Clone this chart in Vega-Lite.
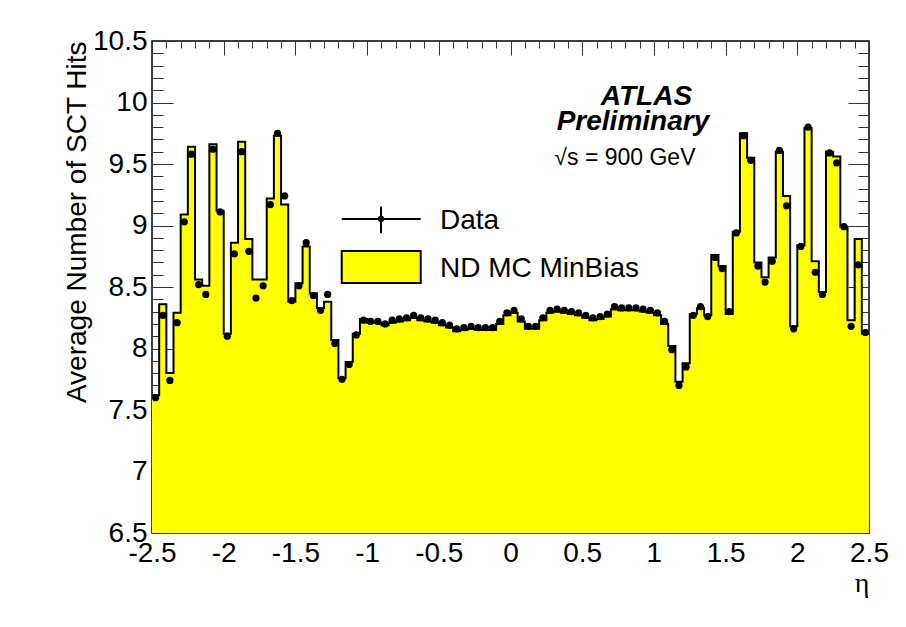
{
  "$schema": "https://vega.github.io/schema/vega-lite/v6.json",
  "width": 717,
  "height": 492,
  "autosize": {"type": "none"},
  "padding": {"left": 152, "top": 41, "right": 37, "bottom": 94},
  "background": "white",
  "config": {
    "view": {"stroke": "#000", "strokeWidth": 1.5},
    "axis": {
      "grid": false, "domain": false,
      "labelFont": "Liberation Sans", "titleFont": "Liberation Sans",
      "labelColor": "#000", "titleColor": "#000", "tickColor": "#333", "tickWidth": 1,
      "labelFontSize": 28, "titleFontSize": 28, "titleFontWeight": "normal",
      "labelFlush": false, "labelOverlap": false, "labelBound": false
    }
  },
  "datasets": {
    "bins": [
      {"lo": -2.5, "hi": -2.45, "eta": -2.475, "mc": 7.62, "data": 7.60},
      {"lo": -2.45, "hi": -2.4, "eta": -2.425, "mc": 8.36, "data": 8.27},
      {"lo": -2.4, "hi": -2.35, "eta": -2.375, "mc": 7.80, "data": 7.74},
      {"lo": -2.35, "hi": -2.3, "eta": -2.325, "mc": 8.29, "data": 8.21},
      {"lo": -2.3, "hi": -2.25, "eta": -2.275, "mc": 9.09, "data": 9.03},
      {"lo": -2.25, "hi": -2.2, "eta": -2.225, "mc": 9.64, "data": 9.58},
      {"lo": -2.2, "hi": -2.15, "eta": -2.175, "mc": 8.56, "data": 8.52},
      {"lo": -2.15, "hi": -2.1, "eta": -2.125, "mc": 8.51, "data": 8.44},
      {"lo": -2.1, "hi": -2.05, "eta": -2.075, "mc": 9.66, "data": 9.62},
      {"lo": -2.05, "hi": -2.0, "eta": -2.025, "mc": 9.12, "data": 9.11},
      {"lo": -2.0, "hi": -1.95, "eta": -1.975, "mc": 8.12, "data": 8.10},
      {"lo": -1.95, "hi": -1.9, "eta": -1.925, "mc": 8.86, "data": 8.77},
      {"lo": -1.9, "hi": -1.85, "eta": -1.875, "mc": 9.68, "data": 9.60},
      {"lo": -1.85, "hi": -1.8, "eta": -1.825, "mc": 8.89, "data": 8.79},
      {"lo": -1.8, "hi": -1.75, "eta": -1.775, "mc": 8.56, "data": 8.41},
      {"lo": -1.75, "hi": -1.7, "eta": -1.725, "mc": 8.56, "data": 8.51},
      {"lo": -1.7, "hi": -1.65, "eta": -1.675, "mc": 9.22, "data": 9.17},
      {"lo": -1.65, "hi": -1.6, "eta": -1.625, "mc": 9.73, "data": 9.75},
      {"lo": -1.6, "hi": -1.55, "eta": -1.575, "mc": 9.17, "data": 9.24},
      {"lo": -1.55, "hi": -1.5, "eta": -1.525, "mc": 8.38, "data": 8.39},
      {"lo": -1.5, "hi": -1.45, "eta": -1.475, "mc": 8.53, "data": 8.51},
      {"lo": -1.45, "hi": -1.4, "eta": -1.425, "mc": 8.83, "data": 8.86},
      {"lo": -1.4, "hi": -1.35, "eta": -1.375, "mc": 8.45, "data": 8.43},
      {"lo": -1.35, "hi": -1.3, "eta": -1.325, "mc": 8.33, "data": 8.31},
      {"lo": -1.3, "hi": -1.25, "eta": -1.275, "mc": 8.38, "data": 8.44},
      {"lo": -1.25, "hi": -1.2, "eta": -1.225, "mc": 8.07, "data": 8.04},
      {"lo": -1.2, "hi": -1.15, "eta": -1.175, "mc": 7.76, "data": 7.75},
      {"lo": -1.15, "hi": -1.1, "eta": -1.125, "mc": 7.89, "data": 7.87},
      {"lo": -1.1, "hi": -1.05, "eta": -1.075, "mc": 8.12, "data": 8.11},
      {"lo": -1.05, "hi": -1.0, "eta": -1.025, "mc": 8.24, "data": 8.23},
      {"lo": -1.0, "hi": -0.95, "eta": -0.975, "mc": 8.21, "data": 8.22},
      {"lo": -0.95, "hi": -0.9, "eta": -0.925, "mc": 8.21, "data": 8.22},
      {"lo": -0.9, "hi": -0.85, "eta": -0.875, "mc": 8.19, "data": 8.20},
      {"lo": -0.85, "hi": -0.8, "eta": -0.825, "mc": 8.21, "data": 8.23},
      {"lo": -0.8, "hi": -0.75, "eta": -0.775, "mc": 8.22, "data": 8.24},
      {"lo": -0.75, "hi": -0.7, "eta": -0.725, "mc": 8.23, "data": 8.25},
      {"lo": -0.7, "hi": -0.65, "eta": -0.675, "mc": 8.25, "data": 8.27},
      {"lo": -0.65, "hi": -0.6, "eta": -0.625, "mc": 8.23, "data": 8.25},
      {"lo": -0.6, "hi": -0.55, "eta": -0.575, "mc": 8.22, "data": 8.24},
      {"lo": -0.55, "hi": -0.5, "eta": -0.525, "mc": 8.21, "data": 8.23},
      {"lo": -0.5, "hi": -0.45, "eta": -0.475, "mc": 8.19, "data": 8.21},
      {"lo": -0.45, "hi": -0.4, "eta": -0.425, "mc": 8.17, "data": 8.19},
      {"lo": -0.4, "hi": -0.35, "eta": -0.375, "mc": 8.14, "data": 8.16},
      {"lo": -0.35, "hi": -0.3, "eta": -0.325, "mc": 8.15, "data": 8.17},
      {"lo": -0.3, "hi": -0.25, "eta": -0.275, "mc": 8.16, "data": 8.18},
      {"lo": -0.25, "hi": -0.2, "eta": -0.225, "mc": 8.15, "data": 8.17},
      {"lo": -0.2, "hi": -0.15, "eta": -0.175, "mc": 8.15, "data": 8.17},
      {"lo": -0.15, "hi": -0.1, "eta": -0.125, "mc": 8.15, "data": 8.17},
      {"lo": -0.1, "hi": -0.05, "eta": -0.075, "mc": 8.20, "data": 8.22},
      {"lo": -0.05, "hi": 0.0, "eta": -0.025, "mc": 8.27, "data": 8.29},
      {"lo": 0.0, "hi": 0.05, "eta": 0.025, "mc": 8.29, "data": 8.31},
      {"lo": 0.05, "hi": 0.1, "eta": 0.075, "mc": 8.22, "data": 8.24},
      {"lo": 0.1, "hi": 0.15, "eta": 0.125, "mc": 8.16, "data": 8.18},
      {"lo": 0.15, "hi": 0.2, "eta": 0.175, "mc": 8.16, "data": 8.18},
      {"lo": 0.2, "hi": 0.25, "eta": 0.225, "mc": 8.23, "data": 8.25},
      {"lo": 0.25, "hi": 0.3, "eta": 0.275, "mc": 8.29, "data": 8.31},
      {"lo": 0.3, "hi": 0.35, "eta": 0.325, "mc": 8.30, "data": 8.32},
      {"lo": 0.35, "hi": 0.4, "eta": 0.375, "mc": 8.29, "data": 8.31},
      {"lo": 0.4, "hi": 0.45, "eta": 0.425, "mc": 8.28, "data": 8.30},
      {"lo": 0.45, "hi": 0.5, "eta": 0.475, "mc": 8.27, "data": 8.29},
      {"lo": 0.5, "hi": 0.55, "eta": 0.525, "mc": 8.25, "data": 8.27},
      {"lo": 0.55, "hi": 0.6, "eta": 0.575, "mc": 8.23, "data": 8.25},
      {"lo": 0.6, "hi": 0.65, "eta": 0.625, "mc": 8.24, "data": 8.26},
      {"lo": 0.65, "hi": 0.7, "eta": 0.675, "mc": 8.26, "data": 8.28},
      {"lo": 0.7, "hi": 0.75, "eta": 0.725, "mc": 8.32, "data": 8.34},
      {"lo": 0.75, "hi": 0.8, "eta": 0.775, "mc": 8.31, "data": 8.33},
      {"lo": 0.8, "hi": 0.85, "eta": 0.825, "mc": 8.31, "data": 8.33},
      {"lo": 0.85, "hi": 0.9, "eta": 0.875, "mc": 8.31, "data": 8.33},
      {"lo": 0.9, "hi": 0.95, "eta": 0.925, "mc": 8.30, "data": 8.32},
      {"lo": 0.95, "hi": 1.0, "eta": 0.975, "mc": 8.29, "data": 8.31},
      {"lo": 1.0, "hi": 1.05, "eta": 1.025, "mc": 8.27, "data": 8.29},
      {"lo": 1.05, "hi": 1.1, "eta": 1.075, "mc": 8.20, "data": 8.22},
      {"lo": 1.1, "hi": 1.15, "eta": 1.125, "mc": 8.02, "data": 7.99},
      {"lo": 1.15, "hi": 1.2, "eta": 1.175, "mc": 7.73, "data": 7.70},
      {"lo": 1.2, "hi": 1.25, "eta": 1.225, "mc": 7.88, "data": 7.85},
      {"lo": 1.25, "hi": 1.3, "eta": 1.275, "mc": 8.28, "data": 8.27},
      {"lo": 1.3, "hi": 1.35, "eta": 1.325, "mc": 8.33, "data": 8.34},
      {"lo": 1.35, "hi": 1.4, "eta": 1.375, "mc": 8.27, "data": 8.26},
      {"lo": 1.4, "hi": 1.45, "eta": 1.425, "mc": 8.76, "data": 8.74},
      {"lo": 1.45, "hi": 1.5, "eta": 1.475, "mc": 8.67, "data": 8.65},
      {"lo": 1.5, "hi": 1.55, "eta": 1.525, "mc": 8.28, "data": 8.30},
      {"lo": 1.55, "hi": 1.6, "eta": 1.575, "mc": 8.95, "data": 8.94},
      {"lo": 1.6, "hi": 1.65, "eta": 1.625, "mc": 9.75, "data": 9.73},
      {"lo": 1.65, "hi": 1.7, "eta": 1.675, "mc": 9.55, "data": 9.53},
      {"lo": 1.7, "hi": 1.75, "eta": 1.725, "mc": 8.70, "data": 8.67},
      {"lo": 1.75, "hi": 1.8, "eta": 1.775, "mc": 8.58, "data": 8.54},
      {"lo": 1.8, "hi": 1.85, "eta": 1.825, "mc": 8.74, "data": 8.71},
      {"lo": 1.85, "hi": 1.9, "eta": 1.875, "mc": 9.60, "data": 9.61},
      {"lo": 1.9, "hi": 1.95, "eta": 1.925, "mc": 9.24, "data": 9.16},
      {"lo": 1.95, "hi": 2.0, "eta": 1.975, "mc": 8.18, "data": 8.16},
      {"lo": 2.0, "hi": 2.05, "eta": 2.025, "mc": 8.84, "data": 8.83},
      {"lo": 2.05, "hi": 2.1, "eta": 2.075, "mc": 9.79, "data": 9.80},
      {"lo": 2.1, "hi": 2.15, "eta": 2.125, "mc": 8.71, "data": 8.62},
      {"lo": 2.15, "hi": 2.2, "eta": 2.175, "mc": 8.46, "data": 8.44},
      {"lo": 2.2, "hi": 2.25, "eta": 2.225, "mc": 9.60, "data": 9.59},
      {"lo": 2.25, "hi": 2.3, "eta": 2.275, "mc": 9.56, "data": 9.51},
      {"lo": 2.3, "hi": 2.35, "eta": 2.325, "mc": 8.99, "data": 8.99},
      {"lo": 2.35, "hi": 2.4, "eta": 2.375, "mc": 8.23, "data": 8.18},
      {"lo": 2.4, "hi": 2.45, "eta": 2.425, "mc": 8.89, "data": 8.68},
      {"lo": 2.45, "hi": 2.5, "eta": 2.475, "mc": 8.12, "data": 8.13}
    ],
    "one": [{}]
  },
  "data": {"name": "bins"},
  "resolve": {"axis": {"x": "independent", "y": "independent"}},
  "layer": [
    {
      "transform": [{"fold": ["lo", "hi"], "as": ["k", "edge"]}],
      "mark": {"type": "area", "orient": "vertical", "color": "#ffff00", "clip": true},
      "encoding": {
        "x": {"field": "edge", "type": "quantitative",
          "scale": {"domain": [-2.5, 2.5], "nice": false, "zero": false},
          "axis": {"orient": "bottom", "values": [-2.5, -2, -1.5, -1, -0.5, 0, 0.5, 1, 1.5, 2, 2.5],
            "tickSize": -14, "labelPadding": 20, "labelExpr": "'' + datum.value",
            "title": "η", "titleFont": "Liberation Serif", "titleAnchor": "end", "titlePadding": 2}},
        "y": {"field": "mc", "type": "quantitative", "stack": null,
          "scale": {"domain": [6.5, 10.5], "nice": false, "zero": false},
          "axis": {"orient": "left", "values": [6.5, 7, 7.5, 8, 8.5, 9, 9.5, 10, 10.5],
            "tickSize": -21, "labelPadding": 26, "labelExpr": "'' + datum.value",
            "title": "Average Number of SCT Hits", "titleAnchor": "end", "titlePadding": 1}},
        "y2": {"datum": 6.5},
        "order": [{"field": "eta", "type": "quantitative"}, {"field": "k", "type": "nominal", "sort": "descending"}]
      }
    },
    {
      "transform": [{"fold": ["lo", "hi"], "as": ["k", "edge"]}],
      "mark": {"type": "line", "color": "#000", "strokeWidth": 2, "clip": true},
      "encoding": {
        "x": {"field": "edge", "type": "quantitative",
          "scale": {"domain": [-2.5, 2.5], "nice": false, "zero": false},
          "axis": {"orient": "bottom", "values": [-2.4, -2.3, -2.2, -2.1, -1.9, -1.8, -1.7, -1.6, -1.4, -1.3, -1.2, -1.1, -0.9, -0.8, -0.7, -0.6, -0.4, -0.3, -0.2, -0.1, 0.1, 0.2, 0.3, 0.4, 0.6, 0.7, 0.8, 0.9, 1.1, 1.2, 1.3, 1.4, 1.6, 1.7, 1.8, 1.9, 2.1, 2.2, 2.3, 2.4],
            "tickSize": -7, "labels": false, "title": null}},
        "y": {"field": "mc", "type": "quantitative",
          "scale": {"domain": [6.5, 10.5], "nice": false, "zero": false},
          "axis": {"orient": "left", "values": [6.6, 6.7, 6.8, 6.9, 7.1, 7.2, 7.3, 7.4, 7.6, 7.7, 7.8, 7.9, 8.1, 8.2, 8.3, 8.4, 8.6, 8.7, 8.8, 8.9, 9.1, 9.2, 9.3, 9.4, 9.6, 9.7, 9.8, 9.9, 10.1, 10.2, 10.3, 10.4],
            "tickSize": -11, "labels": false, "title": null}},
        "order": [{"field": "eta", "type": "quantitative"}, {"field": "k", "type": "nominal", "sort": "descending"}]
      }
    },
    {
      "mark": {"type": "circle", "color": "#000", "opacity": 1, "size": 52, "clip": true},
      "encoding": {
        "x": {"field": "eta", "type": "quantitative",
          "scale": {"domain": [-2.5, 2.5], "nice": false, "zero": false},
          "axis": {"orient": "top", "values": [-2.5, -2, -1.5, -1, -0.5, 0, 0.5, 1, 1.5, 2, 2.5],
            "tickSize": -14, "labels": false, "title": null}},
        "y": {"field": "data", "type": "quantitative",
          "scale": {"domain": [6.5, 10.5], "nice": false, "zero": false},
          "axis": {"orient": "right", "values": [6.5, 7, 7.5, 8, 8.5, 9, 9.5, 10, 10.5],
            "tickSize": -21, "labels": false, "title": null}}
      }
    },
    {
      "data": {"name": "one"},
      "mark": {"type": "text", "text": "ATLAS", "font": "Liberation Sans", "fontSize": 28, "fontWeight": "bold", "fontStyle": "italic", "align": "center", "baseline": "alphabetic", "color": "#000"},
      "encoding": {
        "x": {"datum": 0.948, "type": "quantitative",
          "axis": {"orient": "top", "values": [-2.4, -2.3, -2.2, -2.1, -1.9, -1.8, -1.7, -1.6, -1.4, -1.3, -1.2, -1.1, -0.9, -0.8, -0.7, -0.6, -0.4, -0.3, -0.2, -0.1, 0.1, 0.2, 0.3, 0.4, 0.6, 0.7, 0.8, 0.9, 1.1, 1.2, 1.3, 1.4, 1.6, 1.7, 1.8, 1.9, 2.1, 2.2, 2.3, 2.4],
            "tickSize": -7, "labels": false, "title": null}},
        "y": {"datum": 9.98, "type": "quantitative",
          "axis": {"orient": "right", "values": [6.6, 6.7, 6.8, 6.9, 7.1, 7.2, 7.3, 7.4, 7.6, 7.7, 7.8, 7.9, 8.1, 8.2, 8.3, 8.4, 8.6, 8.7, 8.8, 8.9, 9.1, 9.2, 9.3, 9.4, 9.6, 9.7, 9.8, 9.9, 10.1, 10.2, 10.3, 10.4],
            "tickSize": -11, "labels": false, "title": null}}
      }
    },
    {
      "data": {"name": "one"},
      "mark": {"type": "text", "text": "Preliminary", "font": "Liberation Sans", "fontSize": 28, "fontWeight": "bold", "fontStyle": "italic", "align": "center", "baseline": "alphabetic", "color": "#000"},
      "encoding": {
        "x": {"datum": 0.854, "type": "quantitative", "axis": null},
        "y": {"datum": 9.776, "type": "quantitative", "axis": null}
      }
    },
    {
      "data": {"name": "one"},
      "mark": {"type": "text", "text": "√s = 900 GeV", "font": "Liberation Sans", "fontSize": 23, "align": "center", "baseline": "alphabetic", "color": "#000"},
      "encoding": {
        "x": {"datum": 0.798, "type": "quantitative", "axis": null},
        "y": {"datum": 9.49, "type": "quantitative", "axis": null}
      }
    },
    {
      "data": {"name": "one"},
      "mark": {"type": "rule", "color": "#000", "strokeWidth": 2},
      "encoding": {
        "x": {"datum": -1.177, "type": "quantitative", "axis": null},
        "x2": {"datum": -0.626},
        "y": {"datum": 9.053, "type": "quantitative", "axis": null}
      }
    },
    {
      "data": {"name": "one"},
      "mark": {"type": "rule", "color": "#000", "strokeWidth": 2},
      "encoding": {
        "x": {"datum": -0.903, "type": "quantitative", "axis": null},
        "y": {"datum": 8.937, "type": "quantitative", "axis": null},
        "y2": {"datum": 9.153}
      }
    },
    {
      "data": {"name": "one"},
      "mark": {"type": "circle", "color": "#000", "opacity": 1, "size": 40},
      "encoding": {
        "x": {"datum": -0.903, "type": "quantitative", "axis": null},
        "y": {"datum": 9.053, "type": "quantitative", "axis": null}
      }
    },
    {
      "data": {"name": "one"},
      "mark": {"type": "rect", "fill": "#ffff00", "stroke": "#000", "strokeWidth": 2},
      "encoding": {
        "x": {"datum": -1.177, "type": "quantitative", "axis": null},
        "x2": {"datum": -0.626},
        "y": {"datum": 8.533, "type": "quantitative", "axis": null},
        "y2": {"datum": 8.793}
      }
    },
    {
      "data": {"name": "one"},
      "mark": {"type": "text", "text": "Data", "font": "Liberation Sans", "fontSize": 28, "align": "left", "baseline": "alphabetic", "color": "#000"},
      "encoding": {
        "x": {"datum": -0.492, "type": "quantitative", "axis": null},
        "y": {"datum": 8.972, "type": "quantitative", "axis": null}
      }
    },
    {
      "data": {"name": "one"},
      "mark": {"type": "text", "text": "ND MC MinBias", "font": "Liberation Sans", "fontSize": 28, "align": "left", "baseline": "alphabetic", "color": "#000"},
      "encoding": {
        "x": {"datum": -0.492, "type": "quantitative", "axis": null},
        "y": {"datum": 8.581, "type": "quantitative", "axis": null}
      }
    }
  ]
}
